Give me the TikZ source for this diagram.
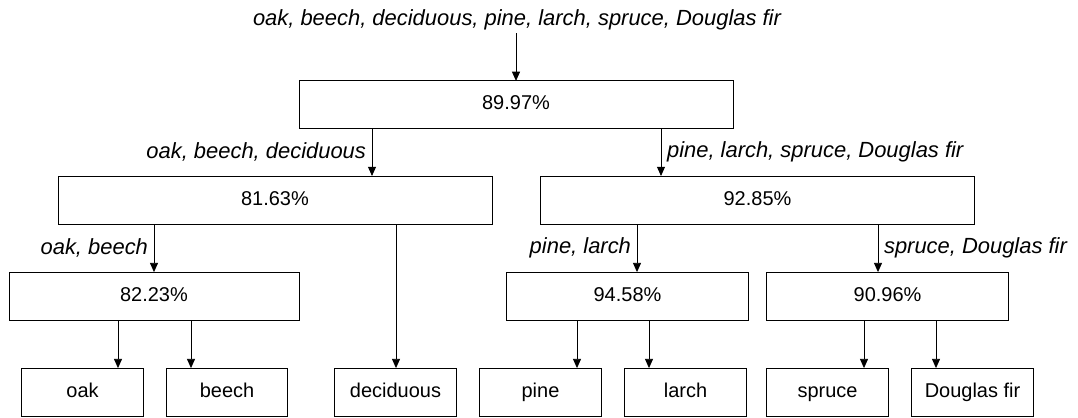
\documentclass[tikz,border=0pt]{standalone}
\usepackage{fontspec}
\setmainfont{Liberation Sans}
\usetikzlibrary{positioning, arrows, arrows.meta}

\begin{document}
\begin{tikzpicture}[x=0.025cm, y=-0.025cm,
  box/.style={draw, line width=0.6pt, inner sep=0pt, outer sep=0pt, minimum height=1.22cm, text height=10.3pt, text depth=3pt, font=\fontsize{14.2}{17}\selectfont},
  leaf/.style={box, minimum width=3.03cm},
  lbl/.style={font=\fontsize{15.6}{18}\selectfont\itshape, inner sep=4pt},
  arr/.style={-{Triangle[length=2.3mm,width=2mm]}, line width=0.6pt}]
\useasboundingbox (0,0) rectangle (1078,418);
% classifier tree
\node[lbl, inner sep=2pt] (all) at (517,20) {oak, beech, deciduous, pine, larch, spruce, Douglas fir};
\node[box, minimum width=10.85cm, minimum height=1.18cm] (r8997) at (516,104.5) {89.97\%};
\node[box, minimum width=10.85cm, minimum height=1.2cm] (r8163) at (275,200) {81.63\%};
\node[box, minimum width=10.83cm, minimum height=1.2cm] (r9285) at (757.5,200) {92.85\%};
\node[box, minimum width=7.25cm] (r8223) at (154,296.5) {82.23\%};
\node[box, minimum width=6.03cm] (r9458) at (627.5,296.5) {94.58\%};
\node[box, minimum width=6.03cm] (r9096) at (887.5,296.5) {90.96\%};
% leaves
\node[leaf] (oak) at (82.5,392.5) {oak};
\node[leaf] (beech) at (227,392.5) {beech};
\node[leaf] (decid) at (395.5,392.5) {deciduous};
\node[leaf] (pine) at (540.5,392.5) {pine};
\node[leaf] (larch) at (685.5,392.5) {larch};
\node[leaf] (spruce) at (827.5,392.5) {spruce};
\node[leaf] (dougl) at (972.5,392.5) {Douglas fir};
% where the arrows leave the boxes
\coordinate (xa) at (372,0);
\coordinate (xb) at (661,0);
\coordinate (xc) at (154,0);
\coordinate (xd) at (396,0);
\coordinate (xe) at (637,0);
\coordinate (xf) at (878,0);
\coordinate (xg) at (118,0);
\coordinate (xh) at (191,0);
\coordinate (xi) at (577,0);
\coordinate (xj) at (649,0);
\coordinate (xk) at (864,0);
\coordinate (xl) at (936,0);
\draw[arr] (all.south -| r8997.north) -- (r8997.north);
\draw[arr] (r8997.south -| xa) -- node[lbl, left] {oak, beech, deciduous} (r8163.north -| xa);
\draw[arr] (r8997.south -| xb) -- node[lbl, right] {pine, larch, spruce, Douglas fir} (r9285.north -| xb);
\draw[arr] (r8163.south -| xc) -- node[lbl, left] {oak, beech} (r8223.north -| xc);
\draw[arr] (r8163.south -| xd) -- (decid.north -| xd);
\draw[arr] (r9285.south -| xe) -- node[lbl, left] {pine, larch} (r9458.north -| xe);
\draw[arr] (r9285.south -| xf) -- node[lbl, right] {spruce, Douglas fir} (r9096.north -| xf);
\draw[arr] (r8223.south -| xg) -- (oak.north -| xg);
\draw[arr] (r8223.south -| xh) -- (beech.north -| xh);
\draw[arr] (r9458.south -| xi) -- (pine.north -| xi);
\draw[arr] (r9458.south -| xj) -- (larch.north -| xj);
\draw[arr] (r9096.south -| xk) -- (spruce.north -| xk);
\draw[arr] (r9096.south -| xl) -- (dougl.north -| xl);
\end{tikzpicture}
\end{document}
